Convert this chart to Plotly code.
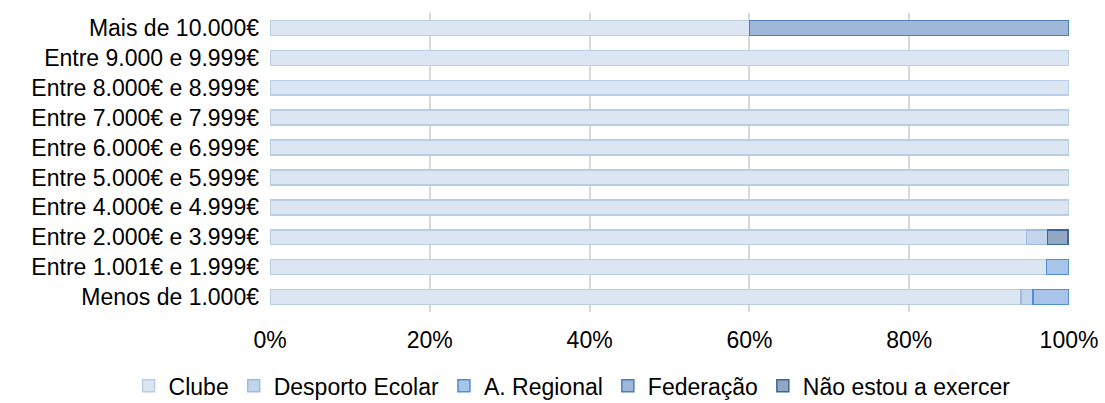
import plotly.graph_objects as go

# Salary bands, listed top to bottom as drawn
categories = [
    "Mais de 10.000€",
    "Entre 9.000 e 9.999€",
    "Entre 8.000€ e 8.999€",
    "Entre 7.000€ e 7.999€",
    "Entre 6.000€ e 6.999€",
    "Entre 5.000€ e 5.999€",
    "Entre 4.000€ e 4.999€",
    "Entre 2.000€ e 3.999€",
    "Entre 1.001€ e 1.999€",
    "Menos de 1.000€",
]

# Share (%) of each context per salary band
clube = [60.0, 100, 100, 100, 100, 100, 100, 94.7, 97.2, 94.0]
desporto_escolar = [None, None, None, None, None, None, None, 2.6, None, 1.5]
a_regional = [None, None, None, None, None, None, None, None, 2.8, 4.5]
federacao = [40.0, None, None, None, None, None, None, None, None, None]
nao_exercer = [None, None, None, None, None, None, None, 2.6, None, None]

series = [
    ("Clube", clube, "#dce6f3", "#b9cde4"),
    ("Desporto Ecolar", desporto_escolar, "#c3d5ec", "#9fbbde"),
    ("A. Regional", a_regional, "#a8c5e9", "#4f8fd3"),
    ("Federação", federacao, "#9fb7d8", "#4a7fbd"),
    ("Não estou a exercer", nao_exercer, "#92a7c3", "#3d6697"),
]

FONT = "Liberation Sans, Arial, sans-serif"
SIZE = 23

fig = go.Figure()
for name, values, fill, edge in series:
    fig.add_trace(go.Bar(
        name=name,
        y=categories,
        x=values,
        orientation="h",
        marker=dict(color=fill, line=dict(color=edge, width=1.5)),
        hoverinfo="x+name",
    ))

fig.update_layout(
    barmode="stack",
    bargap=0.5,
    width=1105,
    height=403,
    margin=dict(l=270, r=36, t=13, b=91, autoexpand=False),
    paper_bgcolor="white",
    plot_bgcolor="white",
    font=dict(family=FONT, size=SIZE, color="#000000"),
    showlegend=True,
    # single-row legend under the plot, anchored left of the plot area
    legend=dict(
        orientation="h",
        x=-0.177,
        xanchor="left",
        y=-0.247,
        yanchor="middle",
        font=dict(family=FONT, size=SIZE, color="#000000"),
        itemwidth=30,
        traceorder="normal",
        bgcolor="rgba(0,0,0,0)",
    ),
    xaxis=dict(
        range=[0, 100],
        dtick=20,
        tick0=0,
        ticksuffix="%",
        showgrid=True,
        gridcolor="#d9d9d9",
        gridwidth=2,
        zeroline=False,
        showline=False,
        ticks="",
        ticklabelstandoff=12,
        tickfont=dict(family=FONT, size=SIZE, color="#000000"),
        fixedrange=True,
        automargin=False,
    ),
    yaxis=dict(
        categoryorder="array",
        categoryarray=categories,
        autorange="reversed",
        showgrid=False,
        zeroline=False,
        showline=False,
        ticks="",
        ticklabelstandoff=10,
        tickfont=dict(family=FONT, size=SIZE, color="#000000"),
        fixedrange=True,
        automargin=False,
    ),
)

fig.write_html("out.html")
